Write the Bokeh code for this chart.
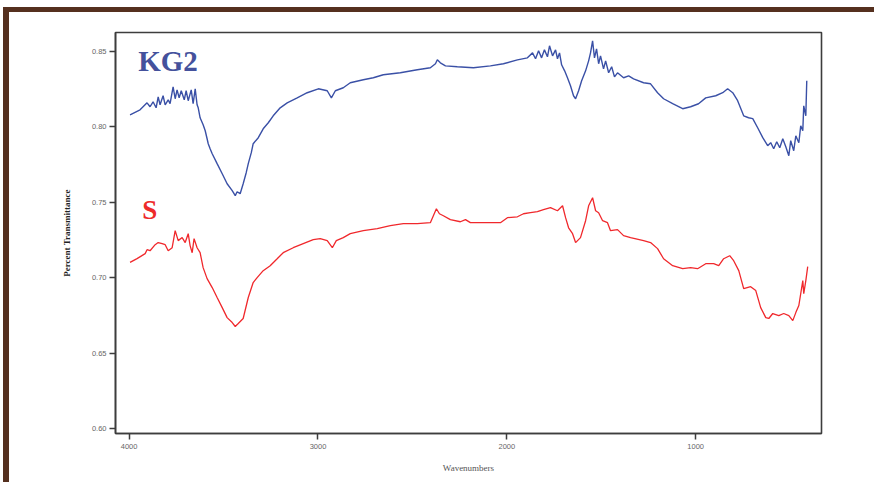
from bokeh.plotting import figure
from bokeh.models import Range1d, FixedTicker, Label, NumeralTickFormatter
from bokeh.embed import file_html
from bokeh.resources import INLINE

# ---------------- data ----------------
kg2_wavenumber = [3995, 3942, 3905, 3889, 3873, 3857, 3846, 3836, 3820, 3809, 3793, 3783, 3767, 3756,
                  3746, 3735, 3724, 3708, 3698, 3687, 3671, 3661, 3650, 3640, 3634, 3624, 3608, 3597,
                  3587, 3581, 3571, 3560, 3534, 3507, 3481, 3454, 3438, 3428, 3412, 3396, 3380, 3369,
                  3353, 3343, 3316, 3290, 3263, 3237, 3200, 3163, 3110, 3057, 2998, 2951, 2929, 2908,
                  2866, 2829, 2760, 2707, 2654, 2564, 2474, 2405, 2378, 2368, 2352, 2325, 2262, 2177,
                  2087, 2018, 1944, 1891, 1864, 1848, 1832, 1816, 1801, 1785, 1774, 1758, 1742, 1732,
                  1721, 1710, 1694, 1679, 1663, 1647, 1636, 1620, 1604, 1583, 1567, 1557, 1546, 1536,
                  1525, 1514, 1504, 1488, 1477, 1461, 1445, 1430, 1414, 1382, 1355, 1329, 1276, 1239,
                  1202, 1170, 1122, 1069, 1027, 985, 947, 894, 857, 831, 804, 778, 746, 720, 698, 672,
                  645, 619, 603, 587, 571, 555, 539, 523, 507, 497, 481, 470, 454, 444, 433, 428, 417,
                  412]
kg2_transmittance = [0.8081, 0.8114, 0.8160, 0.8134, 0.8167, 0.8127, 0.8200, 0.8147, 0.8207, 0.8147,
                     0.8180, 0.8154, 0.8266, 0.8187, 0.8246, 0.8193, 0.8240, 0.8180, 0.8240, 0.8174,
                     0.8246, 0.8154, 0.8253, 0.8147, 0.8127, 0.8061, 0.8015, 0.7975, 0.7922, 0.7889,
                     0.7856, 0.7823, 0.7757, 0.7690, 0.7624, 0.7578, 0.7545, 0.7571, 0.7558, 0.7624,
                     0.7697, 0.7757, 0.7830, 0.7889, 0.7929, 0.7988, 0.8028, 0.8074, 0.8127, 0.8160,
                     0.8193, 0.8227, 0.8253, 0.8240, 0.8193, 0.8240, 0.8260, 0.8293, 0.8313, 0.8326,
                     0.8346, 0.8359, 0.8379, 0.8392, 0.8419, 0.8445, 0.8425, 0.8405, 0.8399, 0.8392,
                     0.8405, 0.8419, 0.8445, 0.8458, 0.8491, 0.8452, 0.8505, 0.8458, 0.8511, 0.8465,
                     0.8538, 0.8471, 0.8511, 0.8452, 0.8491, 0.8412, 0.8372, 0.8326, 0.8273, 0.8207,
                     0.8187, 0.8240, 0.8306, 0.8372, 0.8438, 0.8491, 0.8571, 0.8458, 0.8518, 0.8419,
                     0.8471, 0.8385, 0.8438, 0.8359, 0.8399, 0.8332, 0.8359, 0.8326, 0.8339, 0.8319,
                     0.8293, 0.8286, 0.8227, 0.8187, 0.8154, 0.8121, 0.8134, 0.8154, 0.8193, 0.8207,
                     0.8227, 0.8253, 0.8227, 0.8174, 0.8074, 0.8061, 0.8055, 0.7995, 0.7929, 0.7876,
                     0.7896, 0.7856, 0.7902, 0.7862, 0.7922, 0.7869, 0.7810, 0.7909, 0.7843, 0.7942,
                     0.7896, 0.8008, 0.7975, 0.8140, 0.8074, 0.8306]

s_wavenumber = [3995, 3958, 3915, 3905, 3889, 3862, 3846, 3825, 3809, 3793, 3772, 3756, 3740, 3719,
                3703, 3687, 3677, 3666, 3656, 3640, 3624, 3608, 3587, 3560, 3534, 3507, 3481, 3454,
                3438, 3422, 3396, 3369, 3343, 3322, 3290, 3253, 3216, 3184, 3131, 3078, 3025, 2988,
                2951, 2924, 2903, 2866, 2829, 2760, 2686, 2617, 2548, 2474, 2405, 2389, 2373, 2357,
                2336, 2299, 2246, 2219, 2193, 2124, 2034, 1997, 1944, 1912, 1875, 1838, 1806, 1769,
                1732, 1705, 1689, 1673, 1652, 1636, 1610, 1583, 1567, 1546, 1530, 1514, 1493, 1467,
                1451, 1414, 1382, 1345, 1276, 1239, 1202, 1170, 1122, 1069, 1027, 990, 947, 905, 878,
                852, 820, 799, 772, 746, 709, 682, 656, 629, 613, 592, 560, 534, 507, 486, 470, 454,
                433, 428, 417, 407]
s_transmittance = [0.7103, 0.7128, 0.7161, 0.7187, 0.7180, 0.7220, 0.7234, 0.7227, 0.7220, 0.7180,
                   0.7200, 0.7313, 0.7247, 0.7267, 0.7234, 0.7293, 0.7214, 0.7167, 0.7260, 0.7200,
                   0.7167, 0.7068, 0.6995, 0.6936, 0.6870, 0.6803, 0.6737, 0.6704, 0.6678, 0.6698,
                   0.6731, 0.6870, 0.6969, 0.7002, 0.7048, 0.7081, 0.7127, 0.7167, 0.7200, 0.7227,
                   0.7253, 0.7260, 0.7247, 0.7200, 0.7247, 0.7267, 0.7293, 0.7313, 0.7326, 0.7346,
                   0.7359, 0.7359, 0.7366, 0.7412, 0.7458, 0.7425, 0.7412, 0.7386, 0.7372, 0.7386,
                   0.7366, 0.7366, 0.7366, 0.7399, 0.7405, 0.7425, 0.7432, 0.7439, 0.7452, 0.7465,
                   0.7445, 0.7478, 0.7399, 0.7332, 0.7293, 0.7234, 0.7267, 0.7379, 0.7478, 0.7531,
                   0.7445, 0.7432, 0.7379, 0.7366, 0.7313, 0.7320, 0.7280, 0.7267, 0.7247, 0.7234,
                   0.7194, 0.7127, 0.7081, 0.7061, 0.7068, 0.7061, 0.7094, 0.7094, 0.7081, 0.7127,
                   0.7147, 0.7114, 0.7048, 0.6929, 0.6942, 0.6916, 0.6803, 0.6737, 0.6731, 0.6764,
                   0.6750, 0.6764, 0.6750, 0.6717, 0.6770, 0.6817, 0.6982, 0.6896, 0.6982, 0.7075]

x_ticks = [4000, 3000, 2000, 1000]
y_ticks = [0.60, 0.65, 0.70, 0.75, 0.80, 0.85]
series_names = ["KG2", "S"]
x_label = "Wavenumbers"
y_label = "Percent Transmittance"

# ---------------- figure ----------------
BROWN = "#55301f"
AX = "#3d3d3d"

p = figure(width=871, height=475, output_backend="svg", toolbar_location=None,
           x_range=Range1d(4072, 334), y_range=Range1d(0.5969, 0.8626),
           min_border_left=106, min_border_right=59, min_border_top=20, min_border_bottom=54,
           background_fill_color="white", border_fill_color="white")
p.margin = (7, 0, 0, 3)
p.styles = {"border-top": f"5px solid {BROWN}", "border-left": f"6px solid {BROWN}",
            "overflow": "hidden"}

p.grid.visible = False
p.outline_line_color = AX
p.outline_line_width = 1.6

for ax in (p.xaxis[0], p.yaxis[0]):
    ax.axis_line_color = AX
    ax.axis_line_width = 1.6
    ax.major_tick_line_color = AX
    ax.major_tick_line_width = 1.5
    ax.major_tick_in = 0
    ax.major_tick_out = 6
    ax.minor_tick_line_color = None
    ax.major_label_text_font = "Liberation Sans"
    ax.major_label_text_font_size = "7.5px"
    ax.major_label_text_color = "#666666"
    ax.axis_label_text_font = "Liberation Serif"
    ax.axis_label_text_font_size = "9px"
    ax.axis_label_text_font_style = "bold"
    ax.axis_label_text_color = "#222222"

p.xaxis.ticker = FixedTicker(ticks=x_ticks)
p.yaxis.ticker = FixedTicker(ticks=y_ticks)
p.yaxis.formatter = NumeralTickFormatter(format="0.00")
p.xaxis.major_label_standoff = 4
p.yaxis.major_label_standoff = 3
p.xaxis.axis_label = x_label
p.yaxis.axis_label = y_label
p.xaxis.axis_label_standoff = 11
p.yaxis.axis_label_standoff = 17
p.xaxis.axis_label_text_font_style = "normal"
p.xaxis.axis_label_text_color = "#555555"

p.line(kg2_wavenumber, kg2_transmittance, line_color="#3a50a6", line_width=1.4)
p.line(s_wavenumber, s_transmittance, line_color="#f0282c", line_width=1.3)

p.add_layout(Label(x=3952, y=0.8434, text=series_names[0],
                   text_font="Liberation Serif", text_font_size="29px", text_font_style="bold",
                   text_color="#44519c", text_baseline="alphabetic"))
p.add_layout(Label(x=3931, y=0.7447, text=series_names[1],
                   text_font="Liberation Serif", text_font_size="27px", text_font_style="bold",
                   text_color="#ee2a2a", text_baseline="alphabetic"))

open("out.html", "w").write(file_html(p, INLINE))
